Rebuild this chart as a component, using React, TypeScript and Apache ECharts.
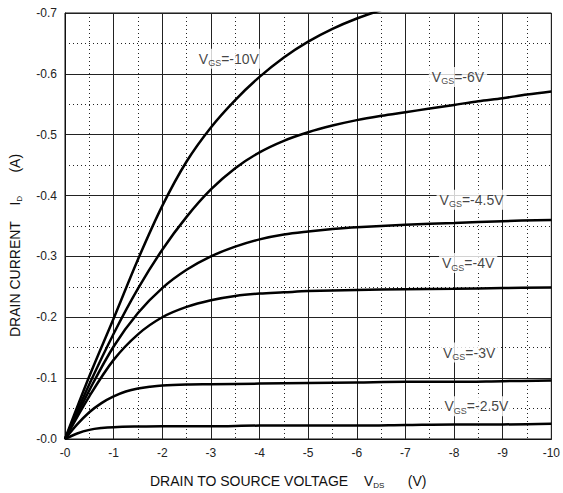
import React, { useEffect, useRef } from "react";
import * as echarts from "echarts";

const xTicks = [0, -1, -2, -3, -4, -5, -6, -7, -8, -9, -10];
const yTicks = [0, -0.1, -0.2, -0.3, -0.4, -0.5, -0.6, -0.7];

const vgsNames = ["-10V", "-6V", "-4.5V", "-4V", "-3V", "-2.5V"];

const curve10: [number, number][] = [
  [0, 0], [-0.5, -0.103], [-1, -0.198], [-1.5, -0.295], [-2, -0.383],
  [-2.5, -0.456], [-3, -0.512], [-3.5, -0.557], [-4, -0.595], [-4.5, -0.627],
  [-5, -0.653], [-5.5, -0.674], [-6, -0.691], [-6.5, -0.705],
];
const curve6: [number, number][] = [
  [0, 0], [-0.5, -0.09], [-1, -0.173], [-1.5, -0.247], [-2, -0.311], [-2.5, -0.365],
  [-3, -0.41], [-3.5, -0.445], [-4, -0.471], [-4.5, -0.49], [-5, -0.504],
  [-5.5, -0.515], [-6, -0.524], [-6.5, -0.531], [-7, -0.537], [-7.5, -0.543],
  [-8, -0.549], [-8.5, -0.555], [-9, -0.56], [-9.5, -0.566], [-10, -0.571],
];
const curve45: [number, number][] = [
  [0, 0], [-0.5, -0.08], [-1, -0.152], [-1.5, -0.207], [-2, -0.248], [-2.5, -0.278],
  [-3, -0.3], [-3.5, -0.316], [-4, -0.328], [-4.5, -0.336], [-5, -0.341],
  [-5.5, -0.345], [-6, -0.348], [-7, -0.352], [-8, -0.355], [-9, -0.358], [-10, -0.36],
];
const curve4: [number, number][] = [
  [0, 0], [-0.5, -0.07], [-1, -0.13], [-1.5, -0.172], [-2, -0.2], [-2.5, -0.217],
  [-3, -0.228], [-3.5, -0.235], [-4, -0.239], [-4.5, -0.241], [-5, -0.243],
  [-6, -0.245], [-7, -0.246], [-8, -0.247], [-9, -0.248], [-10, -0.249],
];
const curve3: [number, number][] = [
  [0, 0], [-0.25, -0.024], [-0.5, -0.044], [-0.75, -0.059], [-1, -0.07],
  [-1.25, -0.078], [-1.5, -0.083], [-1.75, -0.086], [-2, -0.088], [-2.5, -0.0895],
  [-3, -0.09], [-4, -0.091], [-5, -0.092], [-6, -0.093], [-7, -0.094],
  [-8, -0.094], [-9, -0.095], [-10, -0.096],
];
const curve25: [number, number][] = [
  [0, 0], [-0.25, -0.009], [-0.5, -0.015], [-0.75, -0.018], [-1, -0.0195],
  [-1.5, -0.0205], [-2, -0.021], [-3, -0.021], [-4, -0.022], [-5, -0.022],
  [-6, -0.022], [-7, -0.023], [-8, -0.024], [-9, -0.024], [-10, -0.025],
];
const curves = [curve10, curve6, curve45, curve4, curve3, curve25];

// label anchor points (data coordinates)
const labelAnchors: [number, number][] = [
  [-3.37, -0.625], [-8.08, -0.595], [-8.36, -0.393], [-8.29, -0.289],
  [-8.31, -0.142], [-8.46, -0.054],
];

const FONT = "Liberation Sans, Arial, sans-serif";

export default function App() {
  const ref = useRef<HTMLDivElement>(null);
  useEffect(() => {
    if (!ref.current) return;
    const chart = echarts.init(ref.current, undefined, { renderer: "svg" });
    const gridLine = { color: "#222", width: 1 };
    const minorLine = { color: "#222", width: 1, type: [1, 3] as any };
    const option: any = {
      animation: false,
      backgroundColor: "#fff",
      textStyle: { fontFamily: FONT },
      grid: {
        left: 65, right: 9, top: 13, bottom: 54,
        show: true, borderColor: "#111", borderWidth: 1, backgroundColor: "transparent",
      },
      xAxis: {
        type: "value",
        min: xTicks[xTicks.length - 1],
        max: xTicks[0],
        interval: 1,
        inverse: true,
        axisLine: { show: true, lineStyle: { color: "#111" } },
        axisTick: { show: false },
        axisLabel: {
          color: "#222", fontSize: 12, fontFamily: FONT, margin: 8,
          formatter: (v: number) => (Math.abs(v) < 1e-9 ? "-0" : String(v)),
        },
        splitLine: { show: true, lineStyle: gridLine },
        minorTick: { show: false, splitNumber: 2 },
        minorSplitLine: { show: true, lineStyle: minorLine },
      },
      yAxis: {
        type: "value",
        min: yTicks[yTicks.length - 1],
        max: yTicks[0],
        interval: 0.1,
        inverse: true,
        axisLine: { show: true, lineStyle: { color: "#111" } },
        axisTick: { show: false },
        axisLabel: {
          color: "#222", fontSize: 12, fontFamily: FONT, margin: 8,
          formatter: (v: number) => (Math.abs(v) < 1e-9 ? "-0.0" : v.toFixed(1)),
        },
        splitLine: { show: true, lineStyle: gridLine },
        minorTick: { show: false, splitNumber: 2 },
        minorSplitLine: { show: true, lineStyle: minorLine },
      },
      series: [
        ...curves.map((c, i) => ({
          type: "line",
          name: vgsNames[i],
          data: c,
          smooth: 0.35,
          showSymbol: false,
          symbol: "none",
          clip: true,
          lineStyle: { color: "#000", width: 2.5 },
          z: 3,
        })),
        {
          type: "scatter",
          symbolSize: 0,
          z: 4,
          data: labelAnchors.map((p, i) => ({ value: p, name: vgsNames[i] })),
          label: {
            show: true,
            position: "inside",
            backgroundColor: "#fff",
            padding: [1, 3, 1, 3],
            formatter: (p: any) => `{v|V}{s|GS}{v|=${p.name}}`,
            rich: {
              v: { fontSize: 14, fontFamily: FONT, color: "#111", lineHeight: 18 },
              s: { fontSize: 9, fontFamily: FONT, color: "#111", lineHeight: 18, padding: [9, 0, 0, 0] },
            },
          },
        },
      ],
      graphic: [
        {
          type: "text",
          left: 150,
          top: 472,
          style: {
            text: "DRAIN TO SOURCE VOLTAGE    {s|V}{b|DS}{s|      (V)}",
            fontSize: 14,
            fontFamily: FONT,
            fill: "#111",
            rich: {
              s: { fontSize: 14, fontFamily: FONT, fill: "#111", lineHeight: 18 },
              b: { fontSize: 8, fontFamily: FONT, fill: "#111", lineHeight: 18, padding: [9, 0, 0, 0] },
            },
          },
        },
        {
          type: "text",
          x: 6,
          y: 337,
          rotation: Math.PI / 2,
          style: {
            text: "DRAIN CURRENT    {s|I}{b|D}{s|      (A)}",
            fontSize: 14,
            fontFamily: FONT,
            fill: "#111",
            rich: {
              s: { fontSize: 14, fontFamily: FONT, fill: "#111", lineHeight: 18 },
              b: { fontSize: 8, fontFamily: FONT, fill: "#111", lineHeight: 18, padding: [9, 0, 0, 0] },
            },
          },
        },
      ],
    };
    chart.setOption(option);
    return () => chart.dispose();
  }, []);
  return (
    <div
      ref={ref}
      style={{ position: "fixed", left: 0, top: 0, width: 563, height: 493 }}
    />
  );
}
